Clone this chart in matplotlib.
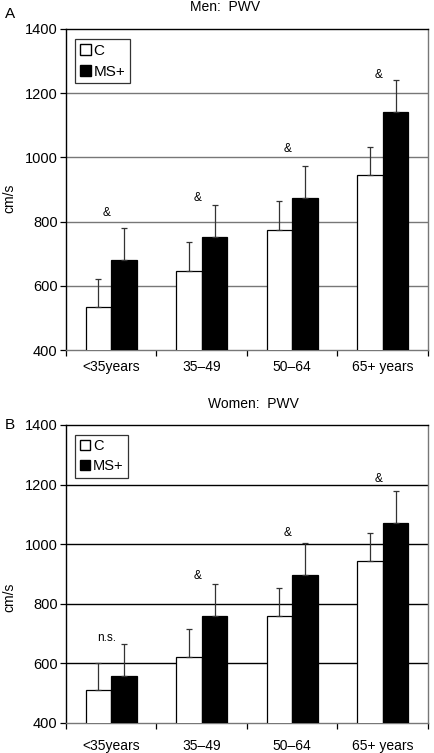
import matplotlib
matplotlib.use("Agg")
import matplotlib.pyplot as plt
import numpy as np
from matplotlib.patches import Patch

plt.rcParams['font.family'] = ['Liberation Sans', 'DejaVu Sans']

categories = ["<35years", "35\u201349", "50\u201364", "65+ years"]
series_names = ["C", "MS+"]

men_c = [533, 646, 773, 944]
men_c_err = [88, 90, 90, 89]
men_ms = [679, 751, 872, 1140]
men_ms_err = [101, 101, 100, 101]
men_sig = ["&", "&", "&", "&"]
men_sig_y = [828, 875, 1025, 1256]

women_c = [510, 622, 759, 942]
women_c_err = [92, 93, 93, 94]
women_ms = [557, 758, 897, 1070]
women_ms_err = [107, 109, 108, 108]
women_sig = ["n.s.", "&", "&", "&"]
women_sig_y = [684, 894, 1036, 1218]

yticks = [400, 600, 800, 1000, 1200, 1400]

fig = plt.figure(figsize=(4.35, 7.53), dpi=100)

def panel(rect, c, cerr, ms, mserr, sig, sigy, title, title_x, title_y, letter, letter_y,
          ylab_y, gridcolor, xpad, legsize):
    ax = fig.add_axes(rect)
    x = np.arange(len(categories))
    w = 0.283
    ax.bar(x - w/2, c, width=w, color="white", edgecolor="black", linewidth=0.9, zorder=3)
    ax.bar(x + w/2, ms, width=w, color="black", edgecolor="black", linewidth=0.9, zorder=3)
    ax.errorbar(x - w/2, c, yerr=[np.zeros(len(c)), cerr], fmt="none", ecolor="#333333",
                elinewidth=0.9, capsize=2.2, capthick=0.9, zorder=4)
    ax.errorbar(x + w/2, ms, yerr=[np.zeros(len(ms)), mserr], fmt="none", ecolor="#333333",
                elinewidth=0.9, capsize=2.2, capthick=0.9, zorder=4)
    for i, (s, yy) in enumerate(zip(sig, sigy)):
        ax.text(i - 0.05, yy, s, ha="center", va="center", fontsize=8.5)
    ax.set_xlim(-0.5, 3.5)
    ax.set_ylim(400, 1400)
    ax.set_yticks(yticks)
    ax.set_yticklabels([str(t) for t in yticks], fontsize=10.5)
    for t in yticks[1:-1]:
        ax.axhline(t, color=gridcolor, linewidth=1.0, zorder=1)
    ax.set_xticks(x)
    ax.set_xticklabels(categories, fontsize=10)
    ax.tick_params(axis="x", length=0, pad=xpad)
    ax.set_xticks(np.arange(-0.5, 4.0, 1.0), minor=True)
    ax.tick_params(axis="x", which="minor", length=4, width=0.9, color="black")
    ax.tick_params(axis="y", length=4, width=0.9, pad=2)
    ax.spines["top"].set_color("black")
    ax.spines["left"].set_color("black")
    ax.spines["right"].set_color("#777777")
    ax.spines["bottom"].set_color("#777777")
    for s in ax.spines.values():
        s.set_linewidth(1.0)
    leg = ax.legend(handles=[Patch(facecolor="white", edgecolor="black", label=series_names[0]),
                             Patch(facecolor="black", edgecolor="black", label=series_names[1])],
                    loc="upper left", bbox_to_anchor=(0.026, 0.968), fontsize=legsize, frameon=True,
                    fancybox=False, handlelength=0.7, handleheight=0.7, handletextpad=0.2,
                    borderpad=0.3, labelspacing=0.45, borderaxespad=0)
    leg.get_frame().set_edgecolor("black")
    leg.get_frame().set_linewidth(0.9)
    fig.text(title_x / 435, 1 - title_y / 753, title, ha="center", va="center", fontsize=10)
    fig.text(10 / 435, 1 - letter_y / 753, letter, ha="center", va="center", fontsize=11)
    fig.text(9 / 435, 1 - ylab_y / 753, "cm/s", ha="center", va="center", rotation=90, fontsize=10)
    return ax

panel([66/435, 1 - 350/753, 362/435, 321/753], men_c, men_c_err, men_ms, men_ms_err,
      men_sig, men_sig_y, "Men:  PWV", 225, 7, "A", 14, 198, "#777777", 7.5, 11)
panel([66/435, 1 - 722.7/753, 362/435, 297.7/753], women_c, women_c_err, women_ms, women_ms_err,
      women_sig, women_sig_y, "Women:  PWV", 253, 404, "B", 425, 597, "black", 11.5, 10.5)

fig.savefig("out.png", dpi=100)
